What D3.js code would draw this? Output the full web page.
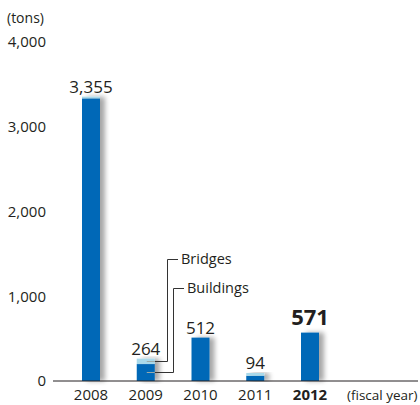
<!DOCTYPE html>
<html lang="en">
<head>
  <meta charset="UTF-8">
  <title>Tons by fiscal year</title>
  <style>
    body { margin: 0; background: #fff; }
    svg text { font-family: "Open Sans", "Noto Sans", sans-serif; fill: #231f20; }
  </style>
</head>
<body>
  <svg id="chart" width="420" height="405"></svg>
  <script src="https://cdn.jsdelivr.net/npm/d3@7"></script>
  <script>
    // values
    var years = ["2008", "2009", "2010", "2011", "2012"];
    var buildings = [3335, 200, 512, 62, 571];
    var bridges = [20, 64, 0, 32, 0];
    var totals = [3355, 264, 512, 94, 571];
    var yTicks = [0, 1000, 2000, 3000, 4000];

    var svg = d3.select("#chart"),
      barW = 18,
      x = d3.scalePoint().domain(years).range([91, 310]),
      y = d3.scaleLinear().domain([0, 4000]).range([381, 42]),
      fmt = d3.format(",");

    var defs = svg.append("defs");
    var f = defs.append("filter").attr("id", "shadow")
      .attr("x", "-50%").attr("y", "-10%").attr("width", "220%").attr("height", "120%");
    f.append("feGaussianBlur").attr("in", "SourceAlpha").attr("stdDeviation", 2.5);
    f.append("feOffset").attr("dx", 5).attr("dy", 0).attr("result", "b");
    f.append("feComponentTransfer").append("feFuncA").attr("type", "linear").attr("slope", 0.35);
    var m = f.append("feMerge");
    m.append("feMergeNode");
    m.append("feMergeNode").attr("in", "SourceGraphic");

    // unit label
    svg.append("text").attr("x", 7).attr("y", 23).style("font-size", "14px").text("(tons)");

    // y tick labels
    svg.selectAll(".ytick").data(yTicks).enter().append("text")
      .attr("class", "ytick")
      .attr("x", 46).attr("y", function (d) { return y(d); })
      .attr("dy", "0.35em").attr("text-anchor", "end")
      .style("font-size", "15px")
      .text(fmt);

    // bars
    var g = svg.selectAll(".bar").data(years).enter().append("g")
      .attr("class", "bar").attr("filter", "url(#shadow)");
    g.append("rect")
      .attr("x", function (d) { return x(d) - barW / 2; })
      .attr("y", function (d, i) { return y(buildings[i]); })
      .attr("width", barW)
      .attr("height", function (d, i) { return y(0) - y(buildings[i]); })
      .attr("fill", "#0068b7");
    g.append("rect")
      .attr("x", function (d) { return x(d) - barW / 2; })
      .attr("y", function (d, i) { return y(buildings[i] + bridges[i]); })
      .attr("width", barW)
      .attr("height", function (d, i) { return y(buildings[i]) - y(buildings[i] + bridges[i]); })
      .attr("fill", "#a9d9ea");

    // value labels
    svg.selectAll(".val").data(years).enter().append("text")
      .attr("class", "val")
      .attr("x", function (d) { return x(d); })
      .attr("y", function (d, i) { return y(totals[i]) - (i === 4 ? 8 : 4); })
      .attr("text-anchor", "middle")
      .style("font-size", function (d, i) { return i === 4 ? "22px" : "17px"; })
      .style("font-weight", function (d, i) { return i === 4 ? "bold" : "normal"; })
      .text(function (d, i) { return fmt(totals[i]); });

    // x axis
    svg.append("line")
      .attr("x1", 53).attr("x2", 418).attr("y1", y(0)).attr("y2", y(0))
      .attr("stroke", "#231f20").attr("stroke-width", 1);
    svg.selectAll(".xtick").data(years).enter().append("text")
      .attr("class", "xtick")
      .attr("x", function (d) { return x(d); }).attr("y", 400)
      .attr("text-anchor", "middle")
      .style("font-size", "15px")
      .style("font-weight", function (d, i) { return i === 4 ? "bold" : "normal"; })
      .text(function (d) { return d; });
    svg.append("text").attr("x", 347).attr("y", 400)
      .style("font-size", "13.5px").text("(fiscal year)");

    // callouts on 2009
    var cx = x("2009");
    var callouts = [
      { name: "Bridges", lx: 167, ty: 259, v: buildings[1] + bridges[1] / 2 },
      { name: "Buildings", lx: 173, ty: 288, v: buildings[1] / 2 + 10 }
    ];
    callouts.forEach(function (c) {
      var py = Math.round(y(c.v)) + 0.5;
      svg.append("path")
        .attr("d", "M" + (c.lx + 11) + "," + (c.ty + 0.5) + "H" + (c.lx + 0.5) + "V" + py + "H" + (cx + barW / 2))
        .attr("fill", "none").attr("stroke", "#333").attr("stroke-width", 1);
      svg.append("path")
        .attr("d", "M" + (cx + barW / 2) + "," + py + "H" + (cx + 1))
        .attr("stroke", "#9aa").attr("stroke-width", 1);
      svg.append("text").attr("x", c.lx + 14).attr("y", c.ty)
        .attr("dy", "0.35em").style("font-size", "14.5px").text(c.name);
    });
  </script>
</body>
</html>
